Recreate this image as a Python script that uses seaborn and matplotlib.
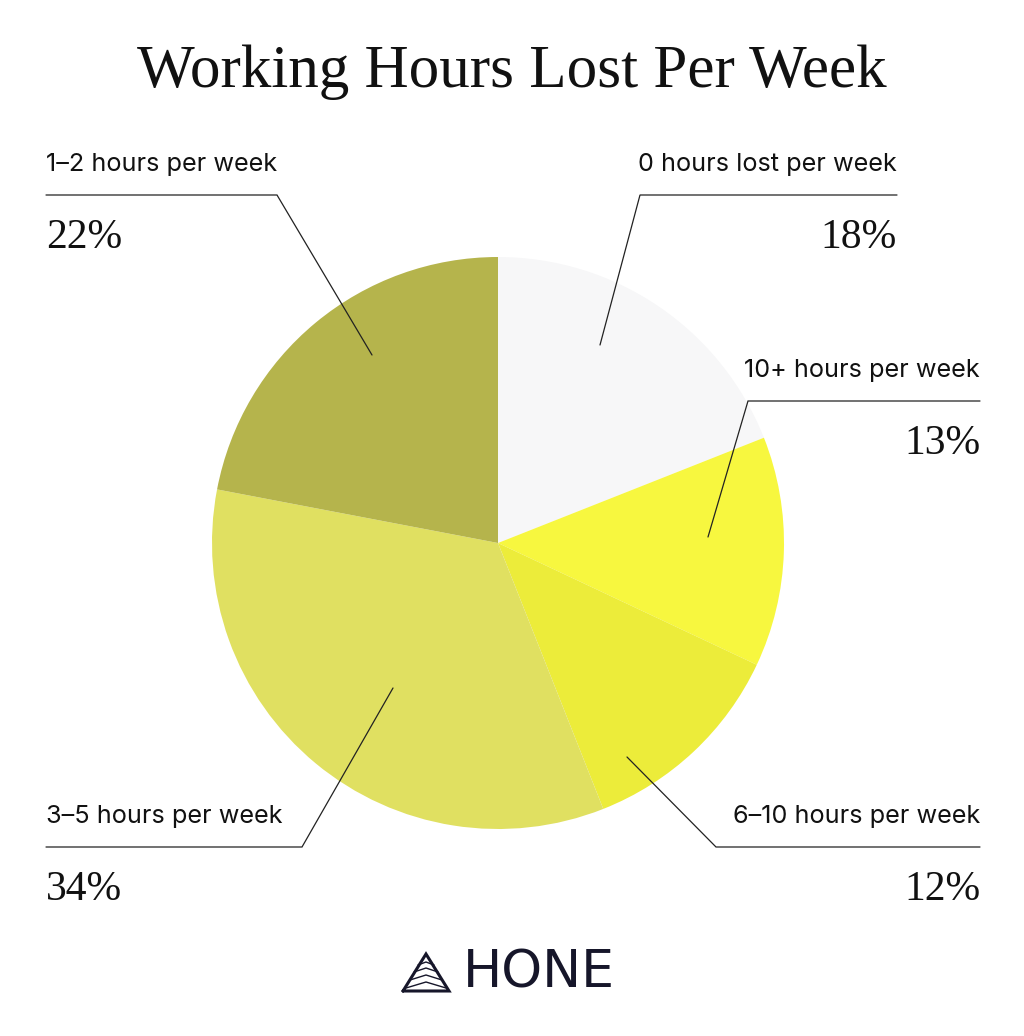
import matplotlib.pyplot as plt
import seaborn as sns

categories = ['0 hours lost per week', '10+ hours per week', '6–10 hours per week',
              '3–5 hours per week', '1–2 hours per week']
# wedge sizes as drawn in the picture (the printed labels are rounded)
shares = [19, 13, 12, 34, 22]
share_labels = ['18%', '13%', '12%', '34%', '22%']
colors = ['#f7f7f8', '#f7f73f', '#ecec3a', '#e0e061', '#b5b44c']

# label layout in pixel space (y measured from the top of the image)
# (text x, text y, ha, underline start x, elbow x, anchor x, anchor y)
layout = [
    (897, 165, 'right', 897, 640, 600, 345),
    (980, 371, 'right', 980, 748, 708, 537),
    (980, 817, 'right', 980, 716, 627, 757),
    (46, 817, 'left', 46, 302, 393, 688),
    (46, 165, 'left', 46, 277, 372, 355),
]

W, H = 1024, 1036

sns.set_theme(style='white')
plt.rcParams['font.family'] = ['Inter', 'DejaVu Sans']

fig = plt.figure(figsize=(W / 100, H / 100), dpi=100)
ax = fig.add_axes([0, 0, 1, 1])


def py(y):
    return H - y


ax.pie(shares, colors=colors, startangle=90, counterclock=False,
       center=(498, py(543)), radius=286, frame=True,
       wedgeprops={'linewidth': 0})
ax.set_xlim(0, W)
ax.set_ylim(0, H)
ax.axis('off')

for cat, lab, (tx, ty, ha, ux, ex, axx, ayy) in zip(categories, share_labels, layout):
    ax.text(tx, py(ty), cat, ha=ha, va='center', fontsize=18.2, color='#111111')
    line_y = ty + 30
    ax.plot([ux, ex, axx], [py(line_y), py(line_y), py(ayy)],
            color='#222222', lw=0.9, solid_joinstyle='miter')
    ax.text(tx, py(line_y + 43), lab, ha=ha, va='center', fontsize=30,
            family='Liberation Serif', color='#111111')

ax.text(512, py(72), 'Working Hours Lost Per Week', ha='center', va='center',
        fontsize=44, family='Liberation Serif', color='#111111')

# brand mark
navy = '#16162a'
ax.plot([403, 426, 449, 403], [py(991), py(954), py(991), py(991)],
        color=navy, lw=2.2, solid_joinstyle='miter')
for k, yy in enumerate([982, 975, 968, 962]):
    half = 18 - k * 4
    ax.plot([426 - half - 2, 426, 426 + half + 2],
            [py(yy + 6 - k), py(yy), py(yy + 6 - k)], color=navy, lw=1.0)
ax.text(463, py(973), 'HONE', ha='left', va='center', fontsize=37.5,
        family='DejaVu Sans', color=navy)

fig.savefig('out.png', dpi=100, facecolor='white')
